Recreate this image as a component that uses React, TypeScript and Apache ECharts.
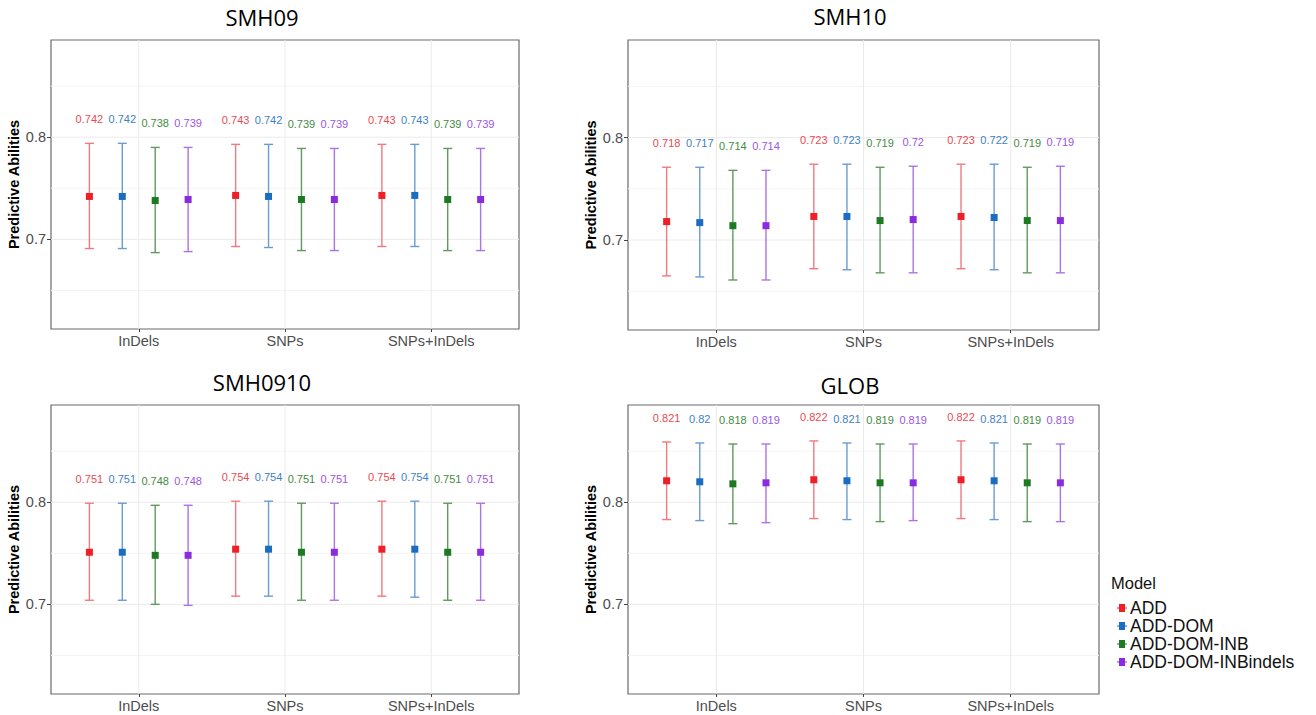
import React, { useEffect, useRef } from 'react';
import * as echarts from 'echarts';

const CATEGORIES = ['InDels', 'SNPs', 'SNPs+InDels'];
const MODELS = ['ADD', 'ADD-DOM', 'ADD-DOM-INB', 'ADD-DOM-INBindels'];
const PANELS = ['SMH09', 'SMH10', 'SMH0910', 'GLOB'];
const Y_TICKS = [0.7, 0.8];
const Y_MINOR = [0.65, 0.75, 0.85];
const Y_MIN = 0.6122;
const Y_MAX = 0.8952;

// rows: model, columns: category
const SMH09_MEAN = [[0.742, 0.743, 0.743], [0.742, 0.742, 0.743], [0.738, 0.739, 0.739], [0.739, 0.739, 0.739]];
const SMH09_UPPER = [[0.794, 0.793, 0.793], [0.794, 0.793, 0.793], [0.79, 0.789, 0.789], [0.79, 0.789, 0.789]];
const SMH09_LOWER = [[0.691, 0.693, 0.693], [0.691, 0.692, 0.693], [0.687, 0.689, 0.689], [0.688, 0.689, 0.689]];

const SMH10_MEAN = [[0.718, 0.723, 0.723], [0.717, 0.723, 0.722], [0.714, 0.719, 0.719], [0.714, 0.72, 0.719]];
const SMH10_UPPER = [[0.771, 0.774, 0.774], [0.771, 0.774, 0.774], [0.768, 0.771, 0.771], [0.768, 0.772, 0.772]];
const SMH10_LOWER = [[0.665, 0.672, 0.672], [0.664, 0.671, 0.671], [0.661, 0.668, 0.668], [0.661, 0.668, 0.668]];

const SMH0910_MEAN = [[0.751, 0.754, 0.754], [0.751, 0.754, 0.754], [0.748, 0.751, 0.751], [0.748, 0.751, 0.751]];
const SMH0910_UPPER = [[0.799, 0.801, 0.801], [0.799, 0.801, 0.801], [0.797, 0.799, 0.799], [0.797, 0.799, 0.799]];
const SMH0910_LOWER = [[0.704, 0.708, 0.708], [0.704, 0.708, 0.707], [0.7, 0.704, 0.704], [0.699, 0.704, 0.704]];

const GLOB_MEAN = [[0.821, 0.822, 0.822], [0.82, 0.821, 0.821], [0.818, 0.819, 0.819], [0.819, 0.819, 0.819]];
const GLOB_UPPER = [[0.859, 0.86, 0.86], [0.858, 0.858, 0.858], [0.857, 0.857, 0.857], [0.857, 0.857, 0.857]];
const GLOB_LOWER = [[0.783, 0.784, 0.784], [0.782, 0.783, 0.783], [0.779, 0.781, 0.781], [0.78, 0.782, 0.781]];

const PANEL_DATA = [
  [SMH09_MEAN, SMH09_LOWER, SMH09_UPPER],
  [SMH10_MEAN, SMH10_LOWER, SMH10_UPPER],
  [SMH0910_MEAN, SMH0910_LOWER, SMH0910_UPPER],
  [GLOB_MEAN, GLOB_LOWER, GLOB_UPPER],
];

const POINT_COLORS = ['#ee1f26', '#1c6cc2', '#1e7a22', '#8b2be0'];
const BAR_COLORS = ['#f07a7e', '#6a9bd3', '#5f9a5f', '#ab73e6'];
const LABEL_COLORS = ['#ea4a52', '#3d7fc6', '#3f8b3f', '#9a55e3'];

const GRID_BOXES = [
  { left: 51, top: 40, width: 468, height: 289 },
  { left: 628, top: 40, width: 471, height: 290 },
  { left: 51, top: 405, width: 468, height: 289 },
  { left: 628, top: 405, width: 471, height: 289 },
];
const TITLE_POS = [[262, 17], [850, 16], [262, 382], [850, 385]];

const DODGE = 0.9;
const FONT = "'Liberation Sans', Arial, sans-serif";
const LABEL_FONT = "'Liberation Sans Narrow', 'Liberation Sans', Arial, sans-serif";

export default function App() {
  const ref = useRef<HTMLDivElement>(null);

  useEffect(() => {
    if (!ref.current) return;
    const chart = echarts.init(ref.current, null, { renderer: 'svg' });
    const nM = MODELS.length;
    const step = DODGE / nM;

    const grid = GRID_BOXES.map((b) => ({
      ...b,
      show: true,
      borderColor: '#6a6a6a',
      borderWidth: 1.2,
      backgroundColor: '#ffffff',
    }));

    const xAxis = GRID_BOXES.map((_, i) => ({
      gridIndex: i,
      type: 'value',
      min: -0.6,
      max: CATEGORIES.length - 1 + 0.6,
      axisLine: { show: false, onZero: false },
      axisTick: {
        show: true,
        length: 3,
        customValues: CATEGORIES.map((_, c) => c),
        lineStyle: { color: '#444', width: 1 },
      },
      axisLabel: {
        customValues: CATEGORIES.map((_, c) => c),
        formatter: (v: number) => CATEGORIES[Math.round(v)],
        fontSize: 14.5,
        color: '#4d4d4d',
        margin: 4,
        fontFamily: FONT,
      },
      splitLine: { show: false },
    }));

    const yAxis = GRID_BOXES.map((_, i) => ({
      gridIndex: i,
      type: 'value',
      min: Y_MIN,
      max: Y_MAX,
      axisLine: { show: false, onZero: false },
      axisTick: {
        show: true,
        length: 4,
        customValues: Y_TICKS,
        lineStyle: { color: '#444', width: 1 },
      },
      axisLabel: {
        customValues: Y_TICKS,
        formatter: (v: number) => v.toFixed(1),
        fontSize: 14.5,
        color: '#4d4d4d',
        margin: 5,
        fontFamily: FONT,
      },
      splitLine: { show: false },
      name: 'Predictive Abilities',
      nameLocation: 'middle',
      nameGap: 26,
      nameTextStyle: { fontSize: 14.5, fontWeight: 'bold', color: '#000', fontFamily: FONT },
    }));

    const series: any[] = [];
    PANELS.forEach((_, p) => {
      const gridData: number[][] = [];
      Y_MINOR.forEach((v) => gridData.push([0, v, 0]));
      Y_TICKS.forEach((v) => gridData.push([0, v, 1]));
      CATEGORIES.forEach((_, c) => gridData.push([c, Y_TICKS[0], 2]));
      series.push({
        type: 'custom',
        name: 'grid' + p,
        xAxisIndex: p,
        yAxisIndex: p,
        silent: true,
        z: 0,
        encode: { x: 0, y: 1 },
        data: gridData,
        renderItem: (params: any, api: any) => {
          const cs = params.coordSys;
          const kind = api.value(2);
          const pt = api.coord([api.value(0), api.value(1)]);
          if (kind === 2) {
            return {
              type: 'line',
              shape: { x1: pt[0], y1: cs.y, x2: pt[0], y2: cs.y + cs.height },
              style: { stroke: '#ebebeb', lineWidth: 1 },
            };
          }
          return {
            type: 'line',
            shape: { x1: cs.x, y1: pt[1], x2: cs.x + cs.width, y2: pt[1] },
            style: { stroke: kind === 1 ? '#ebebeb' : '#f4f4f4', lineWidth: 1 },
          };
        },
      });

      const [MEAN, LOWER, UPPER] = PANEL_DATA[p];
      MODELS.forEach((model, m) => {
        const offset = (m - (nM - 1) / 2) * step;
        series.push({
          type: 'custom',
          name: model,
          xAxisIndex: p,
          yAxisIndex: p,
          z: 2,
          itemStyle: { color: POINT_COLORS[m] },
          encode: { x: 0, y: [1, 2, 3] },
          data: CATEGORIES.map((_, c) => [c, MEAN[m][c], LOWER[m][c], UPPER[m][c]]),
          renderItem: (params: any, api: any) => {
            const x = api.value(0) + offset;
            const mean = api.value(1);
            const pm = api.coord([x, mean]);
            const pl = api.coord([x, api.value(2)]);
            const ph = api.coord([x, api.value(3)]);
            const cap = 4.5;
            const barStyle = { stroke: BAR_COLORS[m], lineWidth: 1.4 };
            return {
              type: 'group',
              children: [
                { type: 'line', shape: { x1: pl[0], y1: pl[1], x2: ph[0], y2: ph[1] }, style: barStyle },
                { type: 'line', shape: { x1: ph[0] - cap, y1: ph[1], x2: ph[0] + cap, y2: ph[1] }, style: barStyle },
                { type: 'line', shape: { x1: pl[0] - cap, y1: pl[1], x2: pl[0] + cap, y2: pl[1] }, style: barStyle },
                {
                  type: 'rect',
                  shape: { x: pm[0] - 3.5, y: pm[1] - 3.5, width: 7, height: 7 },
                  style: { fill: POINT_COLORS[m] },
                },
                {
                  type: 'text',
                  x: ph[0],
                  y: ph[1] - 24,
                  style: {
                    text: String(mean),
                    fill: LABEL_COLORS[m],
                    fontSize: 11,
                    fontFamily: LABEL_FONT,
                    align: 'center',
                    verticalAlign: 'middle',
                  },
                },
              ],
            };
          },
        });
      });
    });

    const graphic: any[] = PANELS.map((t, i) => ({
      type: 'text',
      x: TITLE_POS[i][0],
      y: TITLE_POS[i][1],
      style: {
        text: t,
        fontSize: 22,
        fontFamily: "'Open Sans', 'Noto Sans', sans-serif",
        fill: '#000',
        align: 'center',
        verticalAlign: 'middle',
      },
    }));
    graphic.push({
      type: 'text',
      x: 1111,
      y: 583,
      style: {
        text: 'Model',
        fontSize: 16.5,
        fontFamily: FONT,
        fill: '#111',
        align: 'left',
        verticalAlign: 'middle',
      },
    });

    chart.setOption({
      animation: false,
      backgroundColor: '#ffffff',
      grid,
      xAxis,
      yAxis,
      series,
      graphic,
      legend: {
        data: MODELS,
        orient: 'vertical',
        left: 1112,
        top: 594,
        itemWidth: 10,
        itemHeight: 8,
        itemGap: 0,
        icon: 'path://M0 3.5H10V4.5H0Z M2 0H8V8H2Z',
        selectedMode: false,
        textStyle: { fontSize: 17.5, color: '#111', fontFamily: FONT, lineHeight: 15, padding: [0, 0, 0, -2] },
      },
    });

    return () => chart.dispose();
  }, []);

  return (
    <div
      ref={ref}
      style={{ position: 'fixed', left: 0, top: 0, width: 1316, height: 715, background: '#fff' }}
    />
  );
}
